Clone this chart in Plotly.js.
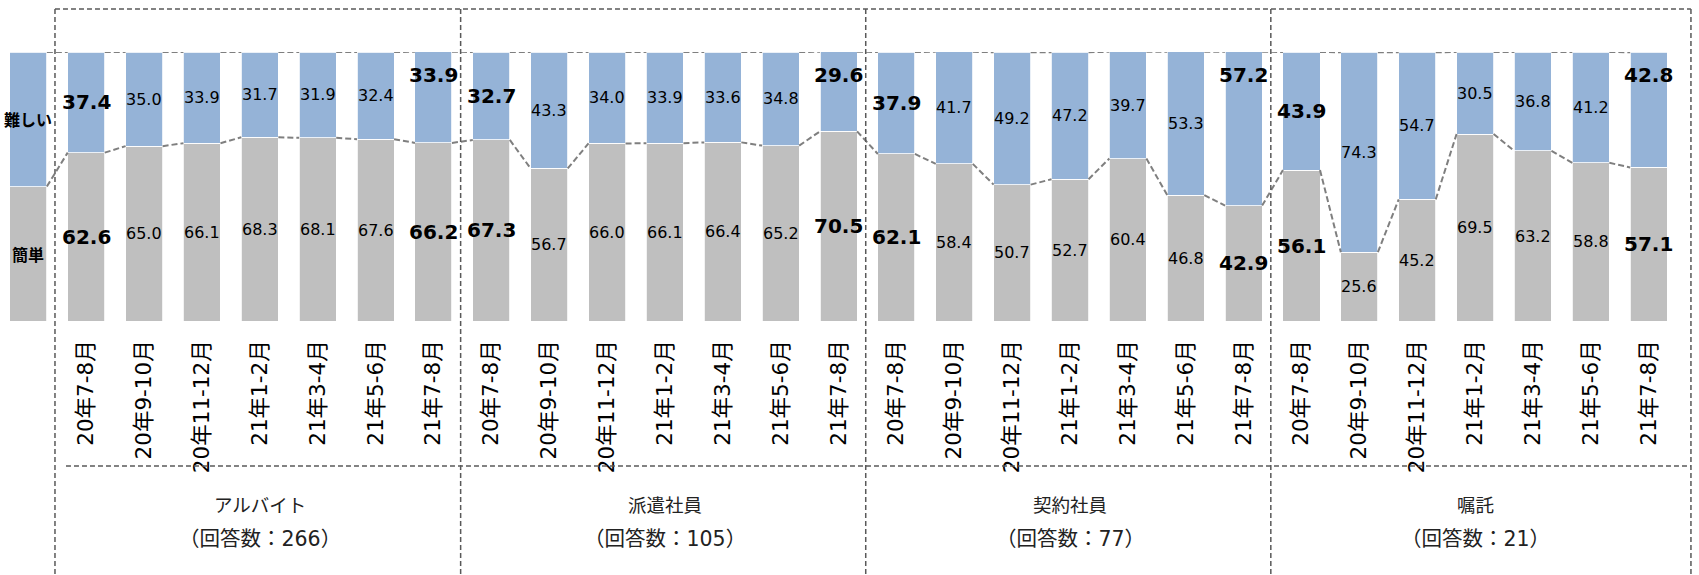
<!DOCTYPE html>
<html><head><meta charset="utf-8">
<script src="https://cdn.plot.ly/plotly-3.0.1.min.js"></script>
<style>html,body{margin:0;padding:0;background:#fff}#chart{width:1699px;height:575px}</style>
</head><body><div id="chart"></div>
<script>
const groups = ['アルバイト','派遣社員','契約社員','嘱託'];
const respondents = [266,105,77,21];
const periods = ['20年7-8月','20年9-10月','20年11-12月','21年1-2月','21年3-4月','21年5-6月','21年7-8月'];

const easyArubaito  = [62.6,65.0,66.1,68.3,68.1,67.6,66.2];
const hardArubaito  = [37.4,35.0,33.9,31.7,31.9,32.4,33.9];
const easyHaken     = [67.3,56.7,66.0,66.1,66.4,65.2,70.5];
const hardHaken     = [32.7,43.3,34.0,33.9,33.6,34.8,29.6];
const easyKeiyaku   = [62.1,58.4,50.7,52.7,60.4,46.8,42.9];
const hardKeiyaku   = [37.9,41.7,49.2,47.2,39.7,53.3,57.2];
const easyShokutaku = [56.1,25.6,45.2,69.5,63.2,58.8,57.1];
const hardShokutaku = [43.9,74.3,54.7,30.5,36.8,41.2,42.8];

const legendLabels = ['簡単','難しい'];
const legendValues = [50,50];

const easyGroups = [easyArubaito, easyHaken, easyKeiyaku, easyShokutaku];
const hardGroups = [hardArubaito, hardHaken, hardKeiyaku, hardShokutaku];

const easyAll = [legendValues[0]].concat(...easyGroups);
const hardAll = [legendValues[1]].concat(...hardGroups);
const n = easyAll.length;
const xs = easyAll.map((_, i) => i);
const tickVals = xs.slice(1);
const tickText = [].concat(...groups.map(() => periods));

const BW = 0.64;
const BLUE = '#95B3D7', GRAY = '#BFBFBF';
const DIGIT_FONT = 'DejaVu Sans, Verdana, sans-serif';
const JP_FONT = 'Noto Sans CJK JP, sans-serif';
const MIX_FONT = 'DejaVu Sans, Noto Sans CJK JP, sans-serif';

function seriesLine(tops) {
  const x = [], y = [];
  for (let i = 0; i < n - 1; i++) {
    x.push(i + BW / 2, i + 1 - BW / 2, null);
    y.push(tops[i], tops[i + 1], null);
  }
  return {x, y};
}
const totals = easyAll.map((v, i) => v + hardAll[i]);
const lineEasy = seriesLine(easyAll);
const lineTop = seriesLine(totals);

const traces = [
  {type:'bar', x: xs, y: easyAll, width: BW, marker:{color: GRAY, line:{color:'#ffffff', width:0.8}}, hoverinfo:'none', name:'簡単'},
  {type:'bar', x: xs, y: hardAll, width: BW, marker:{color: BLUE, line:{color:'#ffffff', width:0.8}}, hoverinfo:'none', name:'難しい'},
  {type:'scatter', mode:'lines', x: lineEasy.x, y: lineEasy.y, line:{color:'#7f7f7f', width:2, dash:'6px,3px'}, hoverinfo:'none', connectgaps:false},
  {type:'scatter', mode:'lines', x: lineTop.x, y: lineTop.y, line:{color:'#7f7f7f', width:2, dash:'6px,3px'}, hoverinfo:'none', connectgaps:false}
];

const annotations = [];
for (let i = 1; i < n; i++) {
  const j = (i - 1) % periods.length;
  const bold = (j === 0 || j === periods.length - 1);
  const font = {family: DIGIT_FONT, size: bold ? 20 : 16, color:'#000', weight: bold ? 700 : 400};
  annotations.push({x: i, y: easyAll[i] / 2, xref:'x', yref:'y', text: easyAll[i].toFixed(1), showarrow:false, font});
  const hy = (j === periods.length - 1) ? 91.4 : easyAll[i] + hardAll[i] / 2;
  annotations.push({x: i, y: hy, xref:'x', yref:'y', text: hardAll[i].toFixed(1), showarrow:false, font});
}
annotations.push({x: 0, y: legendValues[0] / 2, xref:'x', yref:'y', text: legendLabels[0], showarrow:false, font:{family: JP_FONT, size:16, color:'#000', weight:700}});
annotations.push({x: 0, y: legendValues[0] + legendValues[1] / 2, xref:'x', yref:'y', text: legendLabels[1], showarrow:false, font:{family: JP_FONT, size:16, color:'#000', weight:700}});

groups.forEach((g, k) => {
  const cx = 1 + k * periods.length + (periods.length - 1) / 2;
  annotations.push({x: cx, y: -0.680, xref:'x', yref:'paper', yanchor:'middle', text: g, showarrow:false, font:{family: JP_FONT, size:18.5, color:'#222'}});
  annotations.push({x: cx, y: -0.810, xref:'x', yref:'paper', yanchor:'middle', text: '（回答数：' + respondents[k] + '）', showarrow:false, font:{family: MIX_FONT, size:20.5, color:'#222'}});
});

const boxLine = {color:'#595959', width:1.5, dash:'5px,3px'};
const BOX_L = 0.46, BOX_R = 28.73, BOX_T = 1.16, BOX_B = -1.05;
const shapes = [
  {type:'line', xref:'x', yref:'paper', x0: BOX_L, x1: BOX_R, y0: BOX_T, y1: BOX_T, line: boxLine},
  {type:'line', xref:'x', yref:'paper', x0: BOX_L, x1: BOX_L, y0: BOX_T, y1: BOX_B, line: boxLine},
  {type:'line', xref:'x', yref:'paper', x0: BOX_R, x1: BOX_R, y0: BOX_T, y1: BOX_B, line: boxLine},
  {type:'line', xref:'x', yref:'paper', x0: 0.65, x1: BOX_R, y0: -0.539, y1: -0.539, line: boxLine}
];
for (let k = 1; k < groups.length; k++) {
  const sx = 0.5 + k * periods.length - 0.03;
  shapes.push({type:'line', xref:'x', yref:'paper', x0: sx, x1: sx, y0: BOX_T, y1: BOX_B, line: boxLine});
}

const layout = {
  width: 1699, height: 575,
  margin: {l: 0, r: 4, t: 52, b: 254},
  paper_bgcolor:'#fff', plot_bgcolor:'#fff',
  barmode:'stack', showlegend:false,
  xaxis: {range:[-0.49, 28.8], tickvals: tickVals, ticktext: tickText, tickangle:-90,
          tickfont:{family: MIX_FONT, size:21.5, color:'#000'},
          ticklabelstandoff: 14, showgrid:false, zeroline:false, showline:false, ticks:''},
  yaxis: {range:[0,100], visible:false, showgrid:false, zeroline:false},
  annotations, shapes
};
Plotly.newPlot('chart', traces, layout, {displayModeBar:false, staticPlot:true});
</script></body></html>
